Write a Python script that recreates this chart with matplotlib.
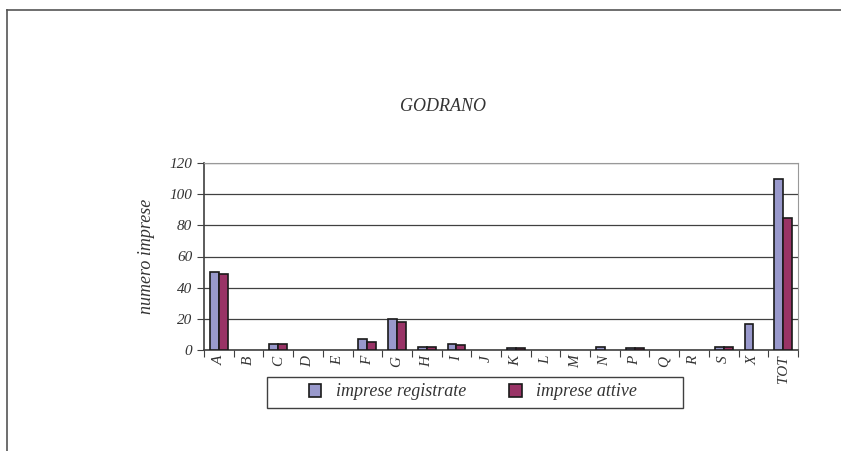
import numpy as np
import matplotlib
matplotlib.use("Agg")
import matplotlib.pyplot as plt
from matplotlib.lines import Line2D
from matplotlib.patches import Rectangle

categories = ["A", "B", "C", "D", "E", "F", "G", "H", "I", "J", "K", "L",
              "M", "N", "P", "Q", "R", "S", "X", "TOT"]
registrate = [50, 0, 4, 0, 0, 7, 20, 2, 4, 0, 1, 0, 0, 2, 1, 0, 0, 2, 17, 110]
attive = [49, 0, 4, 0, 0, 5, 18, 2, 3, 0, 1, 0, 0, 0, 1, 0, 0, 2, 0, 85]
yticks = [0, 20, 40, 60, 80, 100, 120]

plt.rcParams["font.family"] = ["Liberation Serif", "DejaVu Serif"]
plt.rcParams["font.style"] = "italic"

fig = plt.figure(figsize=(8.41, 4.51), dpi=100)
ax = fig.add_axes([204 / 841, 1 - 350 / 451, 594 / 841, 187 / 451])

x = np.arange(len(categories))
w = 0.3
reg = np.array(registrate)
att = np.array(attive)
# empty categories draw nothing
mr = reg > 0
ma = att > 0
ax.bar(x[mr] - w / 2, reg[mr], w, color="#9999CC", edgecolor="#1a1a1a",
       linewidth=1.2, label="imprese registrate", zorder=3)
ax.bar(x[ma] + w / 2, att[ma], w, color="#993366", edgecolor="#1a1a1a",
       linewidth=1.2, label="imprese attive", zorder=3)

ax.set_xlim(-0.5, len(categories) - 0.5)
ax.set_ylim(0, 120)
ax.set_yticks(yticks)
ax.yaxis.grid(True, color="#404040", linewidth=0.9, zorder=0)

# ticks on category boundaries, labels centered
ax.set_xticks(np.arange(len(categories) + 1) - 0.5)
ax.set_xticklabels([])
ax.set_xticks(x, minor=True)
ax.set_xticklabels(categories, minor=True, rotation=90, fontsize=11)
ax.tick_params(axis="x", which="minor", length=0, pad=4)
ax.tick_params(axis="x", which="major", length=5, color="#404040")
ax.tick_params(axis="y", length=5, color="#404040", labelsize=11, labelcolor="#333333")
for lab in ax.get_xticklabels(minor=True):
    lab.set_color("#333333")

for side in ["top", "right"]:
    ax.spines[side].set_color("#999999")
for side in ["left", "bottom"]:
    ax.spines[side].set_color("#404040")
    ax.spines[side].set_linewidth(1.2)

ax.set_ylabel("numero imprese", fontsize=13, color="#333333", labelpad=10)
fig.text(443 / 841, 1 - 106 / 451, "GODRANO", ha="center", va="center",
         fontsize=13, color="#333333")

leg = fig.legend(loc="center", bbox_to_anchor=(473 / 841, 1 - 392 / 451),
                 ncol=2, fontsize=13, frameon=False,
                 handlelength=0.7, handleheight=0.7, columnspacing=2.4,
                 labelcolor="#333333")
fig.add_artist(Rectangle((267 / 841, 1 - 408 / 451), 416 / 841, 31 / 451,
                         transform=fig.transFigure, fill=False,
                         edgecolor="#404040", linewidth=1.0))

# outer frame
fig.add_artist(Line2D([7 / 841, 1], [1 - 10 / 451, 1 - 10 / 451],
                      transform=fig.transFigure, color="#555555", linewidth=1.2))
fig.add_artist(Line2D([7 / 841, 7 / 841], [0, 1 - 10 / 451],
                      transform=fig.transFigure, color="#555555", linewidth=1.2))

fig.savefig("out.png", dpi=100)
